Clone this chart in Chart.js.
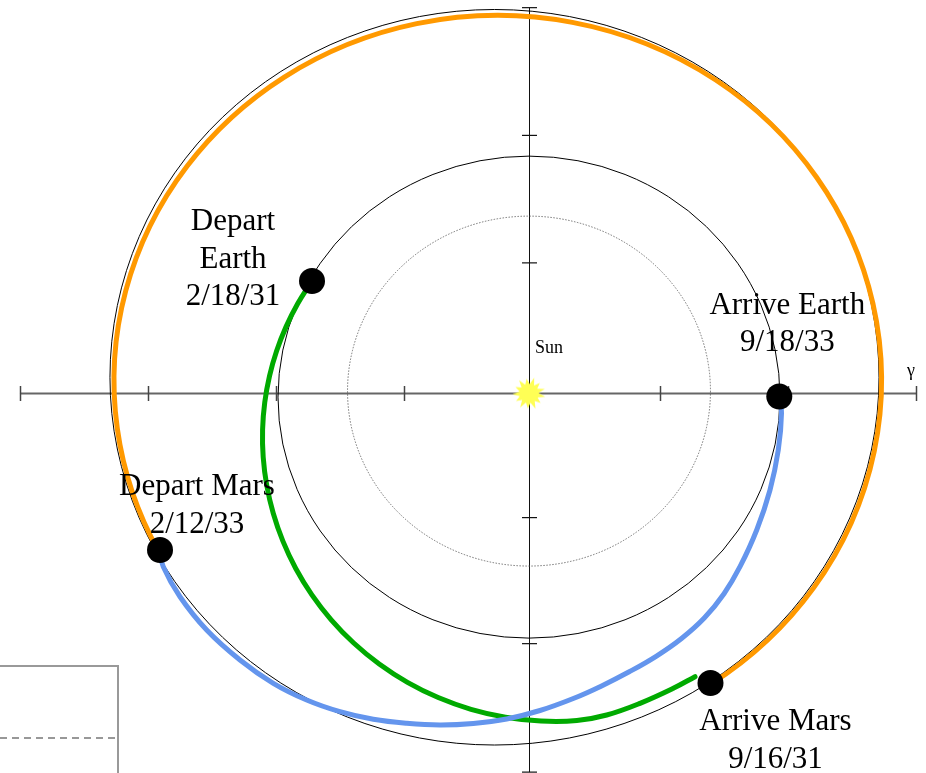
<!DOCTYPE html>
<html>
<head>
<meta charset="utf-8">
<script src="https://cdn.jsdelivr.net/npm/chart.js@4/dist/chart.umd.min.js"></script>
<style>
  html, body { margin: 0; padding: 0; background: #fff; overflow: hidden; }
  canvas { display: block; }
</style>
</head>
<body>
<canvas id="orbits" width="926" height="773"></canvas>
<script>
// Heliocentric ecliptic coordinates in AU: +x points to the vernal equinox (γ).

// Mission events
const eventLabels = [
  ['Depart', 'Earth', '2/18/31'],
  ['Arrive Mars', '9/16/31'],
  ['Depart Mars', '2/12/33'],
  ['Arrive Earth', '9/18/33']
];
const eventX = [-0.8645, 0.7231, -1.4701, 0.9972];
const eventY = [0.4668, -1.2012, -0.6494, -0.0124];

// Outbound leg, Earth -> Mars
const outboundX = [-0.8681, -0.9218, -0.9677, -1.0053, -1.0339, -1.0528, -1.0614, -1.0590, -1.0450,
  -1.0190, -0.9805, -0.9293, -0.8650, -0.7880, -0.6984, -0.5968, -0.4842, -0.3618, -0.2311,
  -0.0939, 0.0475, 0.1907, 0.3096, 0.4422, 0.5749, 0.6614];
const outboundY = [0.4616, 0.3724, 0.2775, 0.1773, 0.0723, -0.0368, -0.1492, -0.2640, -0.3804,
  -0.4970, -0.6127, -0.7260, -0.8354, -0.9391, -1.0354, -1.1225, -1.1985, -1.2617, -1.3104,
  -1.3433, -1.3591, -1.3570, -1.3340, -1.2855, -1.2232, -1.1751];

// Return leg, Mars -> Earth
const returnX = [-1.4741, -1.4570, -1.3904, -1.2841, -1.1514, -1.0187, -0.8857, -0.7530, -0.6203,
  -0.4873, -0.3546, -0.2219, -0.0888, 0.0438, 0.1765, 0.2892, 0.3992, 0.5064, 0.6076, 0.6992,
  0.7769, 0.8406, 0.9072, 0.9602, 0.9932, 1.0060, 0.9972];
const returnY = [-0.6452, -0.7187, -0.8432, -0.9813, -1.1058, -1.2025, -1.2718, -1.3203, -1.3519,
  -1.3685, -1.3755, -1.3693, -1.3506, -1.3154, -1.2656, -1.2133, -1.1548, -1.0905, -1.0166,
  -0.9307, -0.8307, -0.7187, -0.5664, -0.4004, -0.2344, -0.0822, -0.0158];

// Planet orbits as ellipses: centre and semi-axes (AU)
const orbitNames = ['Venus', 'Earth', 'Mars'];
const orbitCx = [0.000, 0.000, -0.1375];
const orbitCy = [0.010, -0.015, 0.0674];
const orbitRx = [0.723, 1.000, 1.532];
const orbitRy = [0.726, 1.000, 1.526];

// Mars track while the crew stays there (arrive Mars -> depart Mars)
const stayCx = -0.1245;
const stayCy = 0.054;
const stayRx = 1.529;
const stayRy = 1.515;

// Axis tick positions (AU)
const axisTicksX = [-2.028, -1.518, -1.008, -0.498, 0.012, 0.522, 1.032, 1.542];
const axisTicksY = [1.601, 1.071, 0.542, 0.012, -0.515, -1.038, -1.571];

// ---- styling ----
const SERIF = '"Liberation Serif", "Times New Roman", Times, serif';
const COLORS = { outbound: '#00aa00', ret: '#6495ed', stay: '#ff9900' };
const labelOffsets = [[-79, -59], [65, 39], [37, -63], [8, -91]];
const LINE_GAP = 37.5;

function sunGlyph() {
  const c = document.createElement('canvas');
  c.width = c.height = 36;
  const g = c.getContext('2d');
  const spikes = 13;
  g.fillStyle = '#ffff55';
  g.beginPath();
  for (let i = 0; i < spikes * 2; i++) {
    const r = i % 2 ? 9.5 : (i % 4 ? 15 : 16.5);
    const a = i * Math.PI / spikes + 0.2;
    g.lineTo(18 + r * Math.cos(a), 18 + r * Math.sin(a));
  }
  g.closePath();
  g.fill();
  return c;
}

function ellipsePath(xs, ys, cx, cy, rx, ry) {
  const px = xs.getPixelForValue(cx);
  const py = ys.getPixelForValue(cy);
  const rpx = Math.abs(xs.getPixelForValue(cx + rx) - px);
  const rpy = Math.abs(ys.getPixelForValue(cy + ry) - py);
  return { px, py, rpx, rpy };
}

const backdrop = {
  id: 'backdrop',
  beforeDatasetsDraw(chart) {
    const ctx = chart.ctx;
    const xs = chart.scales.x, ys = chart.scales.y;
    const ox = Math.round(xs.getPixelForValue(0)) + 0.5;
    const oy = ys.getPixelForValue(0);
    ctx.save();

    // horizontal axis
    ctx.strokeStyle = '#666';
    ctx.lineWidth = 2;
    ctx.beginPath();
    ctx.moveTo(xs.getPixelForValue(axisTicksX[0]), oy);
    ctx.lineTo(xs.getPixelForValue(axisTicksX[axisTicksX.length - 1]), oy);
    ctx.stroke();
    ctx.lineWidth = 1.5;
    ctx.strokeStyle = '#444';
    axisTicksX.forEach(v => {
      const p = Math.round(xs.getPixelForValue(v)) + 0.5;
      ctx.beginPath();
      ctx.moveTo(p, oy - 7.5);
      ctx.lineTo(p, oy + 7.5);
      ctx.stroke();
    });

    // vertical axis
    ctx.strokeStyle = '#111';
    ctx.lineWidth = 1;
    ctx.beginPath();
    ctx.moveTo(ox, ys.getPixelForValue(axisTicksY[0]));
    ctx.lineTo(ox, ys.getPixelForValue(axisTicksY[axisTicksY.length - 1]));
    ctx.stroke();
    ctx.lineWidth = 1.2;
    axisTicksY.forEach(v => {
      const p = ys.getPixelForValue(v);
      ctx.beginPath();
      ctx.moveTo(ox - 7.5, p);
      ctx.lineTo(ox + 7.5, p);
      ctx.stroke();
    });

    // planet orbits
    orbitNames.forEach((name, i) => {
      const e = ellipsePath(xs, ys, orbitCx[i], orbitCy[i], orbitRx[i], orbitRy[i]);
      ctx.beginPath();
      ctx.ellipse(e.px, e.py, e.rpx, e.rpy, 0, 0, Math.PI * 2);
      if (name === 'Venus') {
        ctx.setLineDash([1.5, 1.5]);
        ctx.strokeStyle = '#555';
        ctx.lineWidth = 0.8;
      } else {
        ctx.setLineDash([]);
        ctx.strokeStyle = '#000';
        ctx.lineWidth = 1;
      }
      ctx.stroke();
    });
    ctx.setLineDash([]);

    // Mars track during the stay, from arrival to departure (counter-clockwise)
    const t0 = Math.atan2((eventY[1] - stayCy) / stayRy, (eventX[1] - stayCx) / stayRx);
    const t1 = Math.atan2((eventY[2] - stayCy) / stayRy, (eventX[2] - stayCx) / stayRx);
    const s = ellipsePath(xs, ys, stayCx, stayCy, stayRx, stayRy);
    ctx.strokeStyle = COLORS.stay;
    ctx.lineWidth = 5;
    ctx.beginPath();
    ctx.ellipse(s.px, s.py, s.rpx, s.rpy, 0, -t0, -t1, true);
    ctx.stroke();

    ctx.restore();
  },
  afterDatasetsDraw(chart) {
    const ctx = chart.ctx;
    const xs = chart.scales.x, ys = chart.scales.y;
    ctx.save();
    ctx.fillStyle = '#000';
    ctx.textAlign = 'center';
    ctx.textBaseline = 'middle';

    // event labels
    ctx.font = '31px ' + SERIF;
    eventLabels.forEach((lines, i) => {
      const x = xs.getPixelForValue(eventX[i]) + labelOffsets[i][0];
      const y = ys.getPixelForValue(eventY[i]) + labelOffsets[i][1];
      lines.forEach((t, k) => ctx.fillText(t, x, y + k * LINE_GAP));
    });

    // Sun and equinox markers
    ctx.font = '18px ' + SERIF;
    ctx.fillText('Sun', xs.getPixelForValue(0) + 20, ys.getPixelForValue(0) - 45);
    ctx.fillText('γ', xs.getPixelForValue(axisTicksX[axisTicksX.length - 1]) - 5, ys.getPixelForValue(0) - 22);

    // key box in the lower-left corner
    ctx.strokeStyle = '#999';
    ctx.lineWidth = 2;
    ctx.strokeRect(-3, 666, 121, 120);
    ctx.strokeStyle = '#777';
    ctx.lineWidth = 1.5;
    ctx.setLineDash([7, 5]);
    ctx.beginPath();
    ctx.moveTo(0, 738);
    ctx.lineTo(117, 738);
    ctx.stroke();
    ctx.restore();
  }
};

const toPoints = (xs, ys) => xs.map((x, i) => ({ x, y: ys[i] }));

new Chart(document.getElementById('orbits'), {
  type: 'scatter',
  data: {
    datasets: [
      {
        label: 'Events',
        data: toPoints(eventX, eventY),
        pointRadius: 13,
        pointBackgroundColor: '#000',
        pointBorderWidth: 0,
        showLine: false
      },
      {
        label: 'Sun',
        data: [{ x: 0, y: 0 }],
        pointStyle: sunGlyph(),
        showLine: false
      },
      {
        label: 'Mars to Earth',
        data: toPoints(returnX, returnY),
        showLine: true,
        borderColor: COLORS.ret,
        borderWidth: 5,
        borderCapStyle: 'round',
        borderJoinStyle: 'round',
        tension: 0.4,
        pointRadius: 0
      },
      {
        label: 'Earth to Mars',
        data: toPoints(outboundX, outboundY),
        showLine: true,
        borderColor: COLORS.outbound,
        borderWidth: 5,
        borderCapStyle: 'round',
        borderJoinStyle: 'round',
        tension: 0.4,
        pointRadius: 0
      }
    ]
  },
  options: {
    responsive: false,
    animation: false,
    events: [],
    layout: { padding: 0, autoPadding: false },
    plugins: { legend: { display: false }, tooltip: { enabled: false } },
    scales: {
      x: { type: 'linear', min: -529 / 251, max: 397 / 251, display: false },
      y: { type: 'linear', min: -379.5 / 241, max: 393.5 / 241, display: false }
    }
  },
  plugins: [backdrop]
});
</script>
</body>
</html>
